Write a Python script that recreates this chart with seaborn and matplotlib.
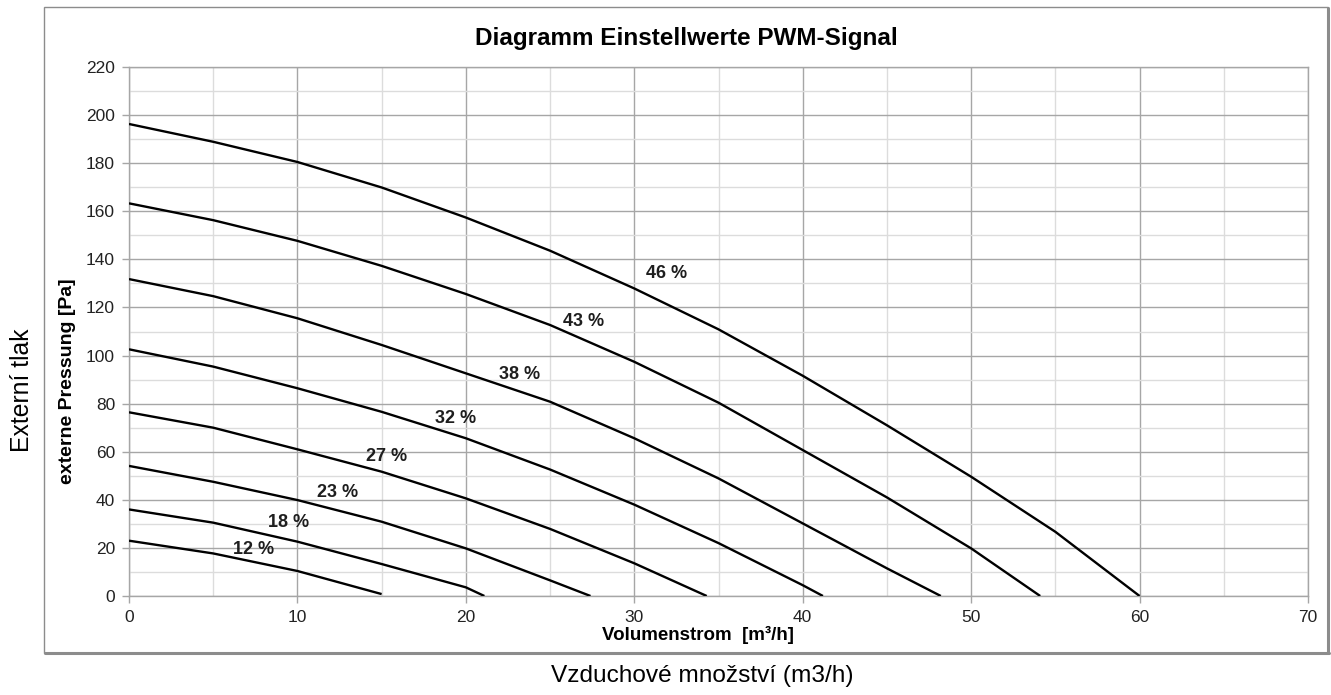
import matplotlib
matplotlib.use("Agg")
import matplotlib.pyplot as plt
from matplotlib.patches import Rectangle
from matplotlib.lines import Line2D
import numpy as np
import pandas as pd
import seaborn as sns

# Fan curves: volume flow [m³/h] vs. external pressure [Pa] per PWM setting
signals = ["12 %", "18 %", "23 %", "27 %", "32 %", "38 %", "43 %", "46 %"]
flow_12 = [0, 5, 10, 15]
pres_12 = [23, 17.7, 10.4, 0.8]
flow_18 = [0, 5, 10, 15, 20, 21.1]
pres_18 = [36, 30.5, 22.6, 13.3, 3.6, 0]
flow_23 = [0, 5, 10, 15, 20, 25, 27.4]
pres_23 = [54.1, 47.5, 39.9, 30.9, 19.8, 6.5, 0]
flow_27 = [0, 5, 10, 15, 20, 25, 30, 34.3]
pres_27 = [76.4, 70, 61, 51.7, 40.6, 27.9, 13.6, 0]
flow_32 = [0, 5, 10, 15, 20, 25, 30, 35, 40, 41.2]
pres_32 = [102.6, 95.4, 86.4, 76.6, 65.6, 52.6, 38, 22, 4.5, 0]
flow_38 = [0, 5, 10, 15, 20, 25, 30, 35, 40, 45, 48.2]
pres_38 = [131.8, 124.7, 115.5, 104.4, 92.6, 80.8, 65.6, 48.9, 30.2, 11.5, 0]
flow_43 = [0, 5, 10, 15, 20, 25, 30, 35, 40, 45, 50, 54.1]
pres_43 = [163.3, 156.3, 147.7, 137.3, 125.6, 112.7, 97.4, 80.4, 60.7, 41, 19.8, 0]
flow_46 = [0, 5, 10, 15, 20, 25, 30, 35, 40, 45, 50, 55, 60]
pres_46 = [196.3, 188.9, 180.5, 169.9, 157.4, 143.6, 127.9, 110.9, 91.6, 71, 49.6, 26.7, 0]

# Label anchor points (flow, pressure) for each curve
label_x = [7.4, 9.5, 12.4, 15.3, 19.4, 23.2, 27.0, 31.9]
label_y = [19.5, 30.5, 43, 58, 74, 92, 114, 134]

flows = [flow_12, flow_18, flow_23, flow_27, flow_32, flow_38, flow_43, flow_46]
pressures = [pres_12, pres_18, pres_23, pres_27, pres_32, pres_38, pres_43, pres_46]

frames = []
for name, fx, py in zip(signals, flows, pressures):
    frames.append(pd.DataFrame({"flow": fx, "pressure": py, "signal": name}))
df = pd.concat(frames, ignore_index=True)

sns.set_theme(style="white")
plt.rcParams["font.family"] = ["Liberation Sans", "DejaVu Sans"]

fig = plt.figure(figsize=(13.31, 6.95), dpi=100)
fig.patch.set_facecolor("white")

# Outer chart frame
W, H = 1331, 695
frame = Rectangle((44 / W, 1 - 653 / H), (1328 - 44) / W, (653 - 7) / H,
                  transform=fig.transFigure, fill=False, edgecolor="#8c8c8c",
                  linewidth=1.0, zorder=0)
fig.patches.append(frame)
fig.lines.append(Line2D([1328 / W, 1328 / W], [1 - 653 / H, 1 - 8 / H],
                        transform=fig.transFigure, color="#8c8c8c", linewidth=2.2))
fig.lines.append(Line2D([45 / W, 1329 / W], [1 - 653 / H, 1 - 653 / H],
                        transform=fig.transFigure, color="#8c8c8c", linewidth=2.2))

ax = fig.add_axes([129 / W, 1 - 596 / H, (1308 - 129) / W, (596 - 67) / H])

sns.lineplot(data=df, x="flow", y="pressure", hue="signal",
             palette=["black"] * len(signals), legend=False, sort=False,
             estimator=None, linewidth=1.7, ax=ax, zorder=3)
for line in ax.get_lines():
    line.set_solid_joinstyle("round")
    line.set_solid_capstyle("butt")

ax.set_xlim(0, 70)
ax.set_ylim(0, 220)
ax.set_xticks(np.arange(0, 71, 10))
ax.set_yticks(np.arange(0, 221, 20))
ax.set_xticks(np.arange(0, 71, 5), minor=True)
ax.set_yticks(np.arange(0, 221, 10), minor=True)
ax.grid(which="major", color="#a6a6a6", linewidth=1.0, zorder=0)
ax.grid(which="minor", color="#dcdcdc", linewidth=1.0, zorder=0)
ax.set_axisbelow(True)

for s in ax.spines.values():
    s.set_color("#a6a6a6")
    s.set_linewidth(1.0)

ax.tick_params(axis="both", which="major", labelsize=12.5, labelcolor="#222222",
               length=5, width=1.0, color="#a6a6a6", direction="out", pad=5)
ax.tick_params(axis="x", which="major", pad=5)
ax.tick_params(axis="both", which="minor", length=0)
ax.tick_params(left=True, bottom=True)

ax.set_xlabel("")
ax.set_ylabel("")

for name, lx, ly in zip(signals, label_x, label_y):
    ax.text(lx, ly, name, fontsize=13, fontweight="bold", color="#1e1e1e",
            ha="center", va="center", zorder=4)

# Chart title and axis titles
fig.text(686 / W, 1 - 38 / H, "Diagramm Einstellwerte PWM-Signal",
         fontsize=17.5, fontweight="bold", color="black", ha="center", va="center")
fig.text(67 / W, 1 - 381 / H, "externe Pressung [Pa]", rotation=90,
         fontsize=14, fontweight="bold", color="black", ha="center", va="center")
fig.text(698 / W, 1 - 635 / H, "Volumenstrom  [m³/h]",
         fontsize=13.5, fontweight="bold", color="black", ha="center", va="center")

# Outer captions
fig.text(22 / W, 1 - 390 / H, "Externí tlak", rotation=90,
         fontsize=17.8, color="black", ha="center", va="center")
fig.text(702 / W, 1 - 676 / H, "Vzduchové množství (m3/h)",
         fontsize=17.6, color="black", ha="center", va="center")

fig.savefig("out.png", dpi=100, facecolor="white")
